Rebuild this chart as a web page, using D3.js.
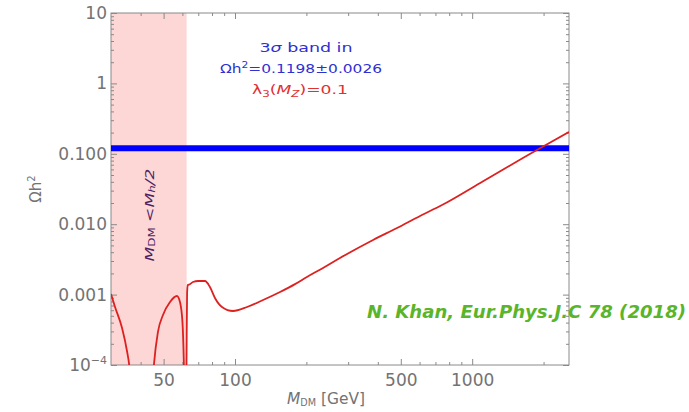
<!DOCTYPE html>
<html>
<head>
<meta charset="utf-8">
<script src="https://cdn.jsdelivr.net/npm/d3@7"></script>
<style>
  html, body { margin: 0; padding: 0; background: #fff; }
  svg { display: block; font-family: "DejaVu Sans", Verdana, sans-serif; }
</style>
</head>
<body>
<svg id="chart" width="689" height="412"></svg>
<script>
// Relic abundance vs dark matter mass (lambda_3(M_Z) = 0.1)
const massGeV = [30, 31.2, 33.4, 35.1, 35.8, 36.4, 40, 44.8, 45.5, 47.3, 49.7, 53.2, 56.9, 58.6,
  60.0, 60.8, 61.4, 62.2, 62.55, 62.8, 63.2, 64.5, 66.5, 70, 74.7, 78.4, 82.3, 88.1, 98.1, 112.4,
  131.3, 154.8, 179.1, 201, 235, 277, 382, 482, 603, 746, 1081, 1811, 2560];
const omegaH2 = [1.02e-3, 6.67e-4, 3.35e-4, 1.53e-4, 1.0e-4, 5e-5, 1e-6, 5e-5, 1.0e-4, 2.94e-4, 5.13e-4, 7.85e-4, 9.55e-4, 7.85e-4,
  4.2e-4, 1.2e-4, 2e-5, 2e-5, 2.5e-4, 1.05e-3, 1.37e-3, 1.40e-3, 1.51e-3, 1.56e-3, 1.56e-3, 1.28e-3, 8.95e-4, 6.67e-4, 5.85e-4, 6.67e-4,
  8.38e-4, 1.09e-3, 1.41e-3, 1.78e-3, 2.39e-3, 3.31e-3, 5.97e-3, 8.84e-3, 1.31e-2, 1.87e-2, 3.85e-2, 0.106, 0.204];

// Planck 3-sigma band
const bandCentre = 0.1198;
const bandHalfWidth = 0.0026;
// Excluded region M_DM < M_h/2
const higgsMass = 125;

const xTickValues = [50, 100, 500, 1000];
const xTickLabels = ["50", "100", "500", "1000"];
const yTickValues = [1e-4, 1e-3, 1e-2, 0.1, 1, 10];
const yTickLabels = ["10", "0.001", "0.010", "0.100", "1", "10"];
const xMinorTicks = [40, 60, 70, 80, 90, 200, 300, 400, 600, 700, 800, 900, 2000];
const yMinorTicks = [];
[1e-4, 1e-3, 1e-2, 0.1, 1].forEach(d => { for (let k = 2; k <= 9; k++) yMinorTicks.push(d * k); });

const svg = d3.select("#chart");
const plotLeft = 111, plotRight = 569, plotTop = 13, plotBottom = 365;

const x = d3.scaleLog().domain([30, 2560]).range([plotLeft, plotRight]);
const y = d3.scaleLog().domain([1e-4, 10]).range([plotBottom, plotTop]);

const axisColor = "#8a8a8a";
const labelColor = "#737373";

svg.append("defs").append("clipPath").attr("id", "plot-clip")
  .append("rect").attr("x", plotLeft).attr("y", plotTop)
  .attr("width", plotRight - plotLeft).attr("height", plotBottom - plotTop);

// excluded band
svg.append("rect")
  .attr("x", x(30)).attr("y", plotTop)
  .attr("width", x(higgsMass / 2) - x(30)).attr("height", plotBottom - plotTop)
  .attr("fill", "#fdd6d6");

// band label
svg.append("text")
  .attr("transform", `translate(${x(43.5)},${y(0.0135)}) rotate(-90)`)
  .attr("text-anchor", "middle")
  .attr("dominant-baseline", "central")
  .attr("fill", "#4e1e63")
  .attr("font-size", 13)
  .attr("font-style", "italic")
  .attr("textLength", 93)
  .attr("lengthAdjust", "spacingAndGlyphs")
  .html('M<tspan font-size="9" dy="3" font-style="normal">DM</tspan><tspan dy="-3"> &lt;M</tspan><tspan font-size="9" dy="3">h</tspan><tspan dy="-3">/2</tspan>');

// frame
svg.append("rect")
  .attr("x", plotLeft).attr("y", plotTop)
  .attr("width", plotRight - plotLeft).attr("height", plotBottom - plotTop)
  .attr("fill", "none").attr("stroke", axisColor).attr("stroke-width", 1);

function styleAxis(g) {
  g.select(".domain").remove();
  g.selectAll(".tick line").attr("stroke", axisColor);
  g.selectAll(".tick text").attr("fill", labelColor).attr("font-size", 17)
    .attr("font-family", "'DejaVu Sans', Verdana, sans-serif");
}

// bottom axis with labels
svg.append("g").attr("transform", `translate(0,${plotBottom})`)
  .call(d3.axisBottom(x).tickValues(xTickValues).tickFormat((d, i) => xTickLabels[i]).tickSize(-6).tickPadding(9))
  .call(styleAxis);
svg.append("g").attr("transform", `translate(0,${plotBottom})`)
  .call(d3.axisBottom(x).tickValues(xMinorTicks).tickFormat("").tickSize(-3))
  .call(styleAxis);
// top axis
svg.append("g").attr("transform", `translate(0,${plotTop})`)
  .call(d3.axisTop(x).tickValues(xTickValues).tickFormat("").tickSize(-6))
  .call(styleAxis);
svg.append("g").attr("transform", `translate(0,${plotTop})`)
  .call(d3.axisTop(x).tickValues(xMinorTicks).tickFormat("").tickSize(-3))
  .call(styleAxis);
// left axis with labels
const yAxisG = svg.append("g").attr("transform", `translate(${plotLeft},0)`)
  .call(d3.axisLeft(y).tickValues(yTickValues).tickFormat((d, i) => yTickLabels[i]).tickSize(-6).tickPadding(4))
  .call(styleAxis);
// power-of-ten label for the lowest tick
yAxisG.selectAll(".tick text").filter(d => d === 1e-4)
  .append("tspan").attr("dy", -7).attr("font-size", 11).text("\u22124");
svg.append("g").attr("transform", `translate(${plotLeft},0)`)
  .call(d3.axisLeft(y).tickValues(yMinorTicks).tickFormat("").tickSize(-3))
  .call(styleAxis);
// right axis
svg.append("g").attr("transform", `translate(${plotRight},0)`)
  .call(d3.axisRight(y).tickValues(yTickValues).tickFormat("").tickSize(-6))
  .call(styleAxis);
svg.append("g").attr("transform", `translate(${plotRight},0)`)
  .call(d3.axisRight(y).tickValues(yMinorTicks).tickFormat("").tickSize(-3))
  .call(styleAxis);

const plot = svg.append("g").attr("clip-path", "url(#plot-clip)");

// 3 sigma band (drawn as a thick bar)
plot.append("line")
  .attr("x1", plotLeft).attr("x2", plotRight)
  .attr("y1", y(bandCentre)).attr("y2", y(bandCentre))
  .attr("stroke", "#0000ff").attr("stroke-width", 6);

// relic density curve
const line = d3.line()
  .x((d, i) => x(massGeV[i]))
  .y((d, i) => y(omegaH2[i]))
  .curve(d3.curveMonotoneX);
plot.append("path")
  .datum(massGeV)
  .attr("d", line)
  .attr("fill", "none")
  .attr("stroke", "#dd2020")
  .attr("stroke-width", 1.8)
  .attr("stroke-linejoin", "round");

// annotation
const note = svg.append("g").attr("font-size", 13).attr("text-anchor", "middle")
  .attr("font-family", "'DejaVu Sans', Verdana, sans-serif");
note.append("text").attr("x", 306).attr("y", 52).attr("fill", "#3030d2")
  .attr("textLength", 93).attr("lengthAdjust", "spacingAndGlyphs")
  .html('3<tspan font-style="italic">σ</tspan> band in');
note.append("text").attr("x", 301).attr("y", 73).attr("fill", "#3030d2")
  .attr("textLength", 162).attr("lengthAdjust", "spacingAndGlyphs")
  .html(`Ωh<tspan font-size="9" dy="-5">2</tspan><tspan dy="5">=${bandCentre}±${bandHalfWidth.toFixed(4)}</tspan>`);
note.append("text").attr("x", 300).attr("y", 94).attr("fill", "#e03030")
  .attr("textLength", 96).attr("lengthAdjust", "spacingAndGlyphs")
  .html('λ<tspan font-size="9" dy="3">3</tspan><tspan dy="-3">(</tspan><tspan font-style="italic">M</tspan><tspan font-size="9" dy="3" font-style="italic">Z</tspan><tspan dy="-3">)=0.1</tspan>');

// axis titles
svg.append("text")
  .attr("x", 326).attr("y", 404)
  .attr("text-anchor", "middle")
  .attr("fill", labelColor).attr("font-size", 16)
  .attr("textLength", 78).attr("lengthAdjust", "spacingAndGlyphs")
  .html('<tspan font-style="italic">M</tspan><tspan font-size="10" dy="2">DM</tspan><tspan dy="-2"> [GeV]</tspan>');

svg.append("text")
  .attr("transform", "translate(41,189) rotate(-90)")
  .attr("text-anchor", "middle")
  .attr("fill", labelColor).attr("font-size", 15)
  .html('Ωh<tspan font-size="10" dy="-6">2</tspan>');

// citation
svg.append("text")
  .attr("x", 686).attr("y", 318)
  .attr("text-anchor", "end")
  .attr("fill", "#5ab52a")
  .attr("font-size", 18)
  .attr("font-weight", "bold")
  .attr("font-style", "italic")
  .attr("textLength", 319).attr("lengthAdjust", "spacingAndGlyphs")
  .text("N. Khan, Eur.Phys.J.C 78 (2018)");
</script>
</body>
</html>
